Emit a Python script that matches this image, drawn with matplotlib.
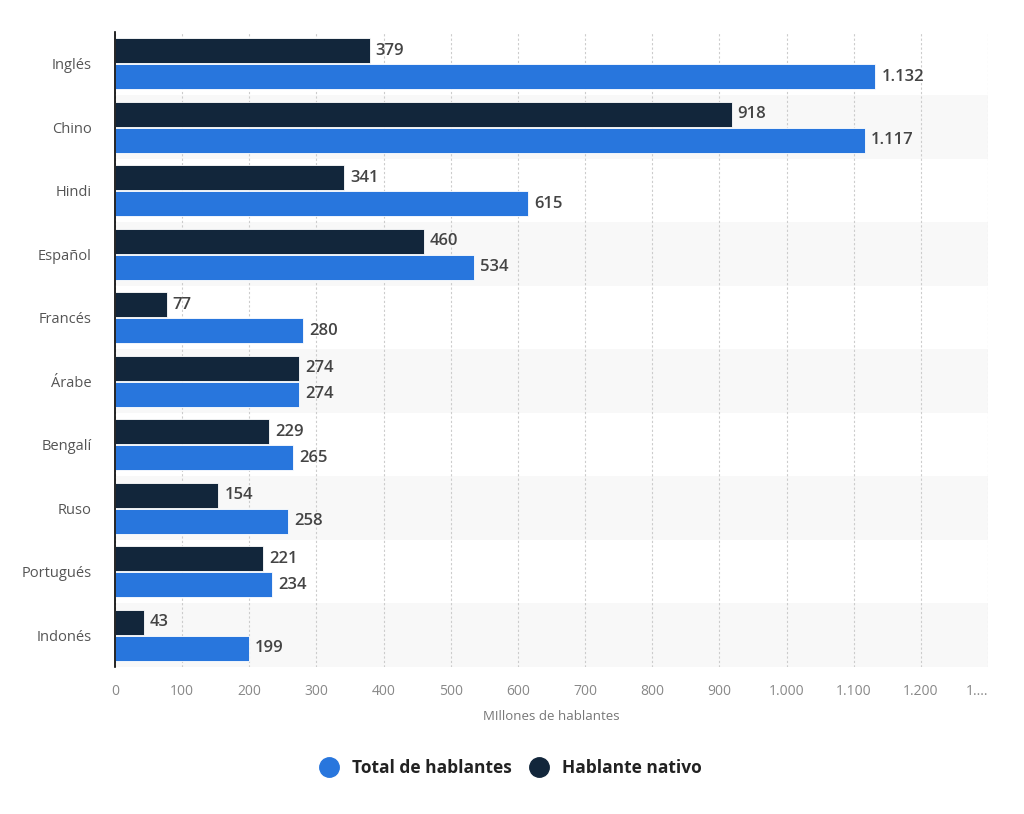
import matplotlib
matplotlib.use('Agg')
import matplotlib.pyplot as plt
from matplotlib.lines import Line2D
import numpy as np

plt.rcParams['font.family'] = ['Open Sans', 'DejaVu Sans']

languages = ["Inglés", "Chino", "Hindi", "Español", "Francés",
             "Árabe", "Bengalí", "Ruso", "Portugués", "Indonés"]
total_speakers = [1132, 1117, 615, 534, 280, 274, 265, 258, 234, 199]
native_speakers = [379, 918, 341, 460, 77, 274, 229, 154, 221, 43]
tick_values = [0, 100, 200, 300, 400, 500, 600, 700, 800, 900, 1000, 1100, 1200, 1300]
tick_labels = ["0", "100", "200", "300", "400", "500", "600", "700", "800",
               "900", "1.000", "1.100", "1.200", "1...."]

BLUE = "#2876dd"
NAVY = "#12263b"


def fmt(v):
    return f"{v:,}".replace(",", ".")


fig = plt.figure(figsize=(10.24, 8.14), dpi=100)
ax = fig.add_axes([0.1123, 0.1806, 0.8527, 0.7801])

n = len(languages)
y = np.arange(n)
h = 0.39

# alternating row bands
for i in range(n):
    if i % 2 == 1:
        ax.axhspan(i - 0.5, i + 0.5, color="#f8f8f8", zorder=0, lw=0)

ax.barh(y - h / 2 - 0.01, native_speakers, height=h, color=NAVY,
        edgecolor="white", linewidth=0.6, zorder=3)
ax.barh(y + h / 2 + 0.01, total_speakers, height=h, color=BLUE,
        edgecolor="white", linewidth=0.6, zorder=3)

for i in range(n):
    ax.text(native_speakers[i] + 9, y[i] - h / 2 - 0.01, fmt(native_speakers[i]),
            va="center", ha="left", fontsize=12, fontweight="semibold", color="#444444")
    ax.text(total_speakers[i] + 9, y[i] + h / 2 + 0.01, fmt(total_speakers[i]),
            va="center", ha="left", fontsize=12, fontweight="semibold", color="#444444")

ax.set_xlim(0, 1300)
ax.set_ylim(n - 0.5, -0.5)
ax.set_yticks(y)
ax.set_yticklabels(languages, fontsize=10.5, color="#555555")
ax.set_xticks(tick_values)
ax.set_xticklabels(tick_labels, fontsize=10, color="#888888")
ax.get_xticklabels()[-1].set_horizontalalignment("right")
ax.tick_params(axis="both", length=0)
ax.tick_params(axis="y", pad=17)
ax.tick_params(axis="x", pad=12)

ax.grid(axis="x", linestyle=(0, (2, 2)), color="#cccccc", linewidth=0.8, zorder=1)
ax.set_axisbelow(True)
for s in ["top", "right", "bottom"]:
    ax.spines[s].set_visible(False)
ax.spines["left"].set_color("#000000")
ax.spines["left"].set_linewidth(1.2)
ax.spines["left"].set_zorder(5)

ax.set_xlabel("MIllones de hablantes", fontsize=9.5, color="#777777", labelpad=8)

handles = [Line2D([0], [0], marker="o", color="none", markerfacecolor=BLUE,
                  markeredgecolor=BLUE, markersize=14, label="Total de hablantes"),
           Line2D([0], [0], marker="o", color="none", markerfacecolor=NAVY,
                  markeredgecolor=NAVY, markersize=14, label="Hablante nativo")]
leg = fig.legend(handles=handles, loc="center", bbox_to_anchor=(0.495, 0.057),
                 ncol=2, frameon=False, handletextpad=0.3, columnspacing=0.6,
                 prop={"size": 12.5, "weight": "bold"})
for t in leg.get_texts():
    t.set_color("#222222")

fig.savefig("out.png", dpi=100)
